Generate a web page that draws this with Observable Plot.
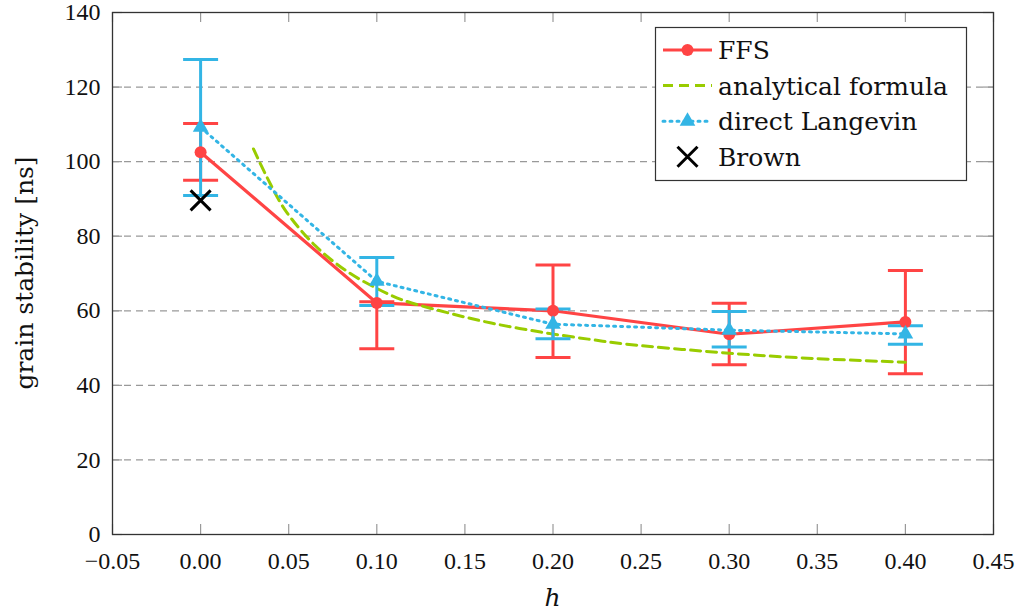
<!DOCTYPE html>
<html>
<head>
<meta charset="utf-8">
<script src="https://cdn.jsdelivr.net/npm/d3@7"></script>
<script src="https://cdn.jsdelivr.net/npm/@observablehq/plot@0.6"></script>
<style>
  body { margin: 0; background: #fff; }
  #chart { position: relative; width: 1022px; height: 615px; }
</style>
</head>
<body>
<div id="chart"></div>
<script>
// Field strength h at which each simulation was run
const hPoints = [0.0, 0.1, 0.2, 0.3, 0.4];

// Forward flux sampling (FFS): mean and error bounds
const ffsValue = [102.5, 62.1, 60.0, 53.7, 57.0];
const ffsLow   = [95.0, 49.8, 47.5, 45.5, 43.1];
const ffsHigh  = [110.2, 62.4, 72.3, 62.0, 70.8];

// Direct Langevin integration: mean and error bounds
const langevinValue = [109.2, 67.9, 56.4, 54.8, 53.8];
const langevinLow   = [90.9, 61.4, 52.5, 50.3, 51.0];
const langevinHigh  = [127.4, 74.3, 60.5, 59.8, 56.0];

// Analytical formula, sampled along h
const formulaH     = [0.030, 0.038, 0.048, 0.065, 0.083, 0.100, 0.114, 0.140, 0.165, 0.193, 0.220, 0.241, 0.295, 0.340, 0.400];
const formulaValue = [103.4, 95.5, 87.0, 77.5, 70.6, 66.0, 63.0, 59.5, 56.7, 54.3, 52.4, 51.1, 48.8, 47.4, 46.2];

// Brown's estimate at zero field
const brownH = [0.0];
const brownValue = [89.6];

// Axis ticks
const xTicks = [-0.05, 0.00, 0.05, 0.10, 0.15, 0.20, 0.25, 0.30, 0.35, 0.40, 0.45];
const yTicks = [0, 20, 40, 60, 80, 100, 120, 140];
const gridValues = [20, 40, 60, 80, 100, 120];

const RED = "#ff4444", GREEN = "#99cc00", BLUE = "#33b5e5";
const FONT = `"Liberation Serif", "DejaVu Serif", serif`;
const LABEL_FONT = `"DejaVu Serif", "Liberation Serif", serif`;
const TICK_SIZE = 24, LABEL_SIZE = 25;

const ffs = hPoints.map((h, i) => ({h, v: ffsValue[i], lo: ffsLow[i], hi: ffsHigh[i]}));
const langevin = hPoints.map((h, i) => ({h, v: langevinValue[i], lo: langevinLow[i], hi: langevinHigh[i]}));
const formula = formulaH.map((h, i) => ({h, v: formulaValue[i]}));
const brown = brownH.map((h, i) => ({h, v: brownValue[i]}));

// Horizontal error-bar cap and an "x" cross, as symbol types
const capSymbol = {
  draw(ctx, size) { const r = Math.sqrt(size / Math.PI); ctx.moveTo(-r, 0); ctx.lineTo(r, 0); }
};
const crossSymbol = {
  draw(ctx, size) {
    const r = Math.sqrt(size / Math.PI);
    ctx.moveTo(-r, -r); ctx.lineTo(r, r);
    ctx.moveTo(-r, r); ctx.lineTo(r, -r);
  }
};

const W = 1022, H = 615, mL = 112, mR = 29, mT = 12, mB = 81;
const innerW = W - mL - mR, innerH = H - mT - mB;
const tickLen = 10;

function errorBars(data, color) {
  return [
    Plot.ruleX(data, {x: "h", y1: "lo", y2: "hi", stroke: color, strokeWidth: 3}),
    Plot.dot(data, {x: "h", y: "lo", symbol: capSymbol, r: 17.5, stroke: color, strokeWidth: 3, fill: "none"}),
    Plot.dot(data, {x: "h", y: "hi", symbol: capSymbol, r: 17.5, stroke: color, strokeWidth: 3, fill: "none"})
  ];
}

const chart = Plot.plot({
  width: W, height: H,
  marginLeft: mL, marginRight: mR, marginTop: mT, marginBottom: mB,
  x: {domain: [-0.05, 0.45]},
  y: {domain: [0, 140]},
  style: {fontFamily: FONT, fontSize: `${TICK_SIZE}px`, background: "#fff", color: "#111", overflow: "visible"},
  marks: [
    Plot.ruleY(gridValues, {stroke: "#999", strokeWidth: 1.2, strokeDasharray: "7,5"}),
    // inward tick marks on all four sides
    Plot.tickX(xTicks, {x: d => d, stroke: "#999", strokeWidth: 1.2, insetTop: innerH - tickLen}),
    Plot.tickX(xTicks, {x: d => d, stroke: "#999", strokeWidth: 1.2, insetBottom: innerH - tickLen}),
    Plot.tickY(yTicks, {y: d => d, stroke: "#999", strokeWidth: 1.2, insetRight: innerW - tickLen}),
    Plot.tickY(yTicks, {y: d => d, stroke: "#999", strokeWidth: 1.2, insetLeft: innerW - tickLen}),
    Plot.axisX(xTicks, {tickSize: 0, tickPadding: 17, tickFormat: d3.format(".2f"), label: null, fontSize: TICK_SIZE}),
    Plot.axisY(yTicks, {tickSize: 0, tickPadding: 12, tickFormat: d3.format("d"), label: null, fontSize: TICK_SIZE}),
    Plot.frame({stroke: "#333", strokeWidth: 1.3}),

    Plot.line(ffs, {x: "h", y: "v", stroke: RED, strokeWidth: 3.2}),
    ...errorBars(ffs, RED),
    Plot.line(formula, {x: "h", y: "v", curve: "catmull-rom", stroke: GREEN, strokeWidth: 3, strokeDasharray: "10,6"}),
    Plot.line(langevin, {x: "h", y: "v", stroke: BLUE, strokeWidth: 3, strokeDasharray: "2,5", strokeLinecap: "round"}),
    ...errorBars(langevin, BLUE),
    Plot.dot(ffs, {x: "h", y: "v", r: 6, fill: RED}),
    Plot.dot(langevin, {x: "h", y: "v", r: 5.8, symbol: "triangle", fill: BLUE}),
    Plot.dot(brown, {x: "h", y: "v", r: 10, symbol: crossSymbol, stroke: "#000", strokeWidth: 3, fill: "none"})
  ]
});

document.getElementById("chart").appendChild(chart);

const svg = d3.select(chart);

// Axis titles
svg.append("text")
  .attr("x", mL + innerW * 0.5).attr("y", 606)
  .attr("text-anchor", "middle")
  .style("font-family", LABEL_FONT).style("font-size", `${LABEL_SIZE}px`).style("font-style", "italic")
  .attr("fill", "#111")
  .text("h");

svg.append("text")
  .attr("transform", `translate(33,${mT + innerH / 2}) rotate(-90)`)
  .attr("text-anchor", "middle")
  .style("font-family", LABEL_FONT).style("font-size", `${LABEL_SIZE}px`)
  .attr("fill", "#111")
  .text("grain stability [ns]");

// Legend
const legendItems = [
  {label: "FFS", color: RED, dash: null, width: 3.2, marker: "circle"},
  {label: "analytical formula", color: GREEN, dash: "10,6", width: 3, marker: null},
  {label: "direct Langevin", color: BLUE, dash: "2,5", width: 3, marker: "triangle"},
  {label: "Brown", color: "#000", dash: null, width: 0, marker: "cross"}
];

const lg = svg.append("g");
lg.append("rect")
  .attr("x", 655.5).attr("y", 27.5).attr("width", 311).attr("height", 153)
  .attr("fill", "#fff").attr("stroke", "#333").attr("stroke-width", 1.2);

legendItems.forEach((item, i) => {
  const cy = 50 + i * 35.6;
  const row = lg.append("g");
  if (item.width > 0) {
    row.append("line")
      .attr("x1", 663).attr("x2", 712).attr("y1", cy).attr("y2", cy)
      .attr("stroke", item.color).attr("stroke-width", item.width)
      .attr("stroke-dasharray", item.dash)
      .attr("stroke-linecap", item.dash === "2,5" ? "round" : "butt");
  }
  if (item.marker === "circle") {
    row.append("circle").attr("cx", 687.5).attr("cy", cy).attr("r", 6).attr("fill", item.color);
  } else if (item.marker === "triangle") {
    row.append("path")
      .attr("transform", `translate(687.5,${cy})`)
      .attr("d", d3.symbol(d3.symbolTriangle, Math.PI * 5.8 * 5.8)())
      .attr("fill", item.color);
  } else if (item.marker === "cross") {
    row.append("path")
      .attr("transform", `translate(687.5,${cy})`)
      .attr("d", "M-10,-10L10,10M-10,10L10,-10")
      .attr("stroke", "#000").attr("stroke-width", 3).attr("fill", "none");
  }
  row.append("text")
    .attr("x", 718).attr("y", cy).attr("dy", "0.36em")
    .attr("text-anchor", "start")
    .style("font-family", LABEL_FONT).style("font-size", `${LABEL_SIZE}px`)
    .attr("fill", "#111")
    .text(item.label);
});
</script>
</body>
</html>
